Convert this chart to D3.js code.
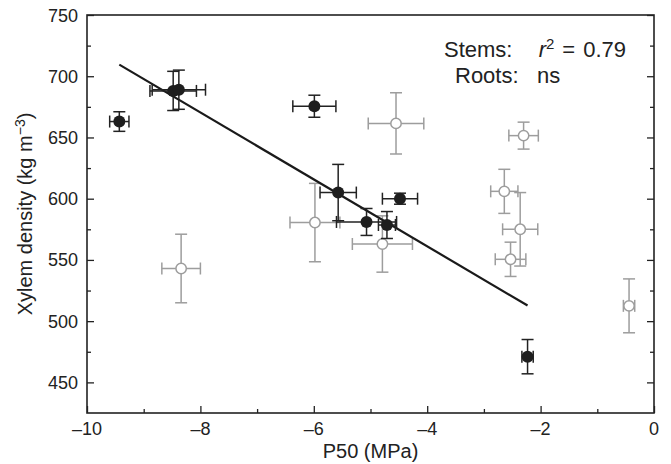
<!DOCTYPE html>
<html lang="en">
<head>
  <meta charset="UTF-8">
  <title>Xylem density vs P50</title>
  <script src="https://d3js.org/d3.v7.min.js"></script>
  <style>
    body { margin: 0; background: #fff; font-family: "Liberation Sans", Arial, sans-serif; }
    svg text { fill: #222; }
  </style>
</head>
<body>
<div id="chart"></div>
<script>
// stems (filled) : P50, density, x error, y error
const stemP50 = [-9.43, -8.48, -8.38, -5.99, -5.57, -5.07, -4.71, -4.48, -2.23];
const stemDensity = [663, 688, 689, 675.5, 605, 581, 578.5, 600, 471];
const stemXErr = [0.17, 0.41, 0.47, 0.38, 0.32, 0.53, 0.15, 0.31, 0.10];
const stemYErr = [8, 16, 16, 9, 23, 11, 11, 4.5, 14];

// roots (open)
const rootP50 = [-8.34, -5.98, -4.79, -4.55, -2.30, -2.64, -2.36, -2.53, -0.44];
const rootDensity = [543, 580.5, 563, 661.5, 651.5, 606, 575, 550.5, 512.5];
const rootXErr = [0.34, 0.44, 0.53, 0.49, 0.26, 0.24, 0.31, 0.27, 0.10];
const rootYErr = [28, 32, 23, 25, 11, 18, 30, 14, 22];

const xTicks = [-10, -8, -6, -4, -2, 0];
const yTicks = [450, 500, 550, 600, 650, 700, 750];

const width = 671, height = 464;
const mLeft = 87, mRight = 654, mTop = 15, mBottom = 413;

const svg = d3.select("#chart").append("svg")
  .attr("width", width)
  .attr("height", height);

const x = d3.scaleLinear().domain([-10, 0]).range([mLeft, mRight]);
const y = d3.scaleLinear().domain([425, 750]).range([mBottom, mTop]);

const stems = stemP50.map((v, i) => ({ x: v, y: stemDensity[i], ex: stemXErr[i], ey: stemYErr[i] }));
const roots = rootP50.map((v, i) => ({ x: v, y: rootDensity[i], ex: rootXErr[i], ey: rootYErr[i] }));

// axes, ticks inward (major longer than minor)
const minorX = d3.range(-9, 0, 2);
const minorY = d3.range(475, 750, 50);

function inTicks(axis, pos, vals, size) {
  svg.append("g").attr("transform", pos)
    .call(axis.tickValues(vals).tickSize(size).tickFormat(""))
    .call(g => g.select(".domain").remove());
}
inTicks(d3.axisTop(x), `translate(0,${mBottom})`, xTicks, 7);
inTicks(d3.axisTop(x), `translate(0,${mBottom})`, minorX, 4);
inTicks(d3.axisRight(y), `translate(${mLeft},0)`, yTicks, 7);
inTicks(d3.axisRight(y), `translate(${mLeft},0)`, minorY, 4);
inTicks(d3.axisLeft(y), `translate(${mRight},0)`, yTicks, 7);
inTicks(d3.axisLeft(y), `translate(${mRight},0)`, minorY, 4);
svg.selectAll(".tick line").attr("stroke", "#222").attr("stroke-width", 1.3);

svg.append("rect")
  .attr("x", mLeft).attr("y", mTop)
  .attr("width", mRight - mLeft).attr("height", mBottom - mTop)
  .attr("fill", "none").attr("stroke", "#222").attr("stroke-width", 1.6);

// tick labels
svg.append("g").selectAll("text")
  .data(xTicks).join("text")
  .attr("x", d => x(d)).attr("y", 435)
  .attr("text-anchor", "middle")
  .style("font-size", "18px")
  .text(d => d < 0 ? "\u2013" + Math.abs(d) : d);

svg.append("g").selectAll("text")
  .data(yTicks).join("text")
  .attr("x", 78).attr("y", d => y(d) + 6.5)
  .attr("text-anchor", "end")
  .style("font-size", "18px")
  .text(d => d);

svg.append("text")
  .attr("x", (mLeft + mRight) / 2).attr("y", 458)
  .attr("text-anchor", "middle")
  .style("font-size", "20px")
  .text("P50 (MPa)");

const yl = svg.append("text")
  .attr("transform", `translate(32,${(mTop + mBottom) / 2}) rotate(-90)`)
  .attr("text-anchor", "middle")
  .style("font-size", "20px");
yl.append("tspan").text("Xylem density (kg m");
yl.append("tspan").text("\u22123").attr("dy", -7).style("font-size", "14px");
yl.append("tspan").text(")").attr("dy", 7);

// annotation
svg.append("text").attr("x", 444).attr("y", 57).style("font-size", "22px").text("Stems:");
const t1 = svg.append("text").attr("x", 626).attr("y", 57)
  .attr("text-anchor", "end").style("font-size", "22px");
t1.append("tspan").text("r").style("font-style", "italic");
t1.append("tspan").text("2").attr("dy", -8).style("font-size", "15px");
t1.append("tspan").text("=").attr("dy", 8).attr("dx", 8);
t1.append("tspan").text("0.79").attr("dx", 8);
svg.append("text").attr("x", 455).attr("y", 83).style("font-size", "22px")
  .text("Roots:\u00a0\u00a0\u00a0ns");

// error bars
function errorBars(data, color) {
  const cap = 6;
  const g = svg.append("g").attr("stroke", color).attr("stroke-width", 1.5).attr("fill", "none");
  data.forEach(d => {
    const cx = x(d.x), cy = y(d.y);
    const x0 = x(d.x - d.ex), x1 = x(d.x + d.ex);
    const y0 = y(d.y - d.ey), y1 = y(d.y + d.ey);
    g.append("line").attr("x1", x0).attr("x2", x1).attr("y1", cy).attr("y2", cy);
    g.append("line").attr("x1", cx).attr("x2", cx).attr("y1", y0).attr("y2", y1);
    g.append("line").attr("x1", x0).attr("x2", x0).attr("y1", cy - cap).attr("y2", cy + cap);
    g.append("line").attr("x1", x1).attr("x2", x1).attr("y1", cy - cap).attr("y2", cy + cap);
    g.append("line").attr("x1", cx - cap).attr("x2", cx + cap).attr("y1", y0).attr("y2", y0);
    g.append("line").attr("x1", cx - cap).attr("x2", cx + cap).attr("y1", y1).attr("y2", y1);
  });
}

errorBars(roots, "#9d9d9d");
svg.append("g").selectAll("circle")
  .data(roots).join("circle")
  .attr("cx", d => x(d.x)).attr("cy", d => y(d.y)).attr("r", 5.2)
  .attr("fill", "#fff").attr("stroke", "#9d9d9d").attr("stroke-width", 1.5);

// least squares line through the stem points
const mx = d3.mean(stems, d => d.x), my = d3.mean(stems, d => d.y);
const slope = d3.sum(stems, d => (d.x - mx) * (d.y - my)) / d3.sum(stems, d => (d.x - mx) ** 2);
const icpt = my - slope * mx;
const [fx0, fx1] = d3.extent(stems, d => d.x);
svg.append("line")
  .attr("x1", x(fx0)).attr("y1", y(icpt + slope * fx0))
  .attr("x2", x(fx1)).attr("y2", y(icpt + slope * fx1))
  .attr("stroke", "#1a1a1a").attr("stroke-width", 2.2);

errorBars(stems, "#222");
svg.append("g").selectAll("circle")
  .data(stems).join("circle")
  .attr("cx", d => x(d.x)).attr("cy", d => y(d.y)).attr("r", 6)
  .attr("fill", "#1e1e1e");
</script>
</body>
</html>
